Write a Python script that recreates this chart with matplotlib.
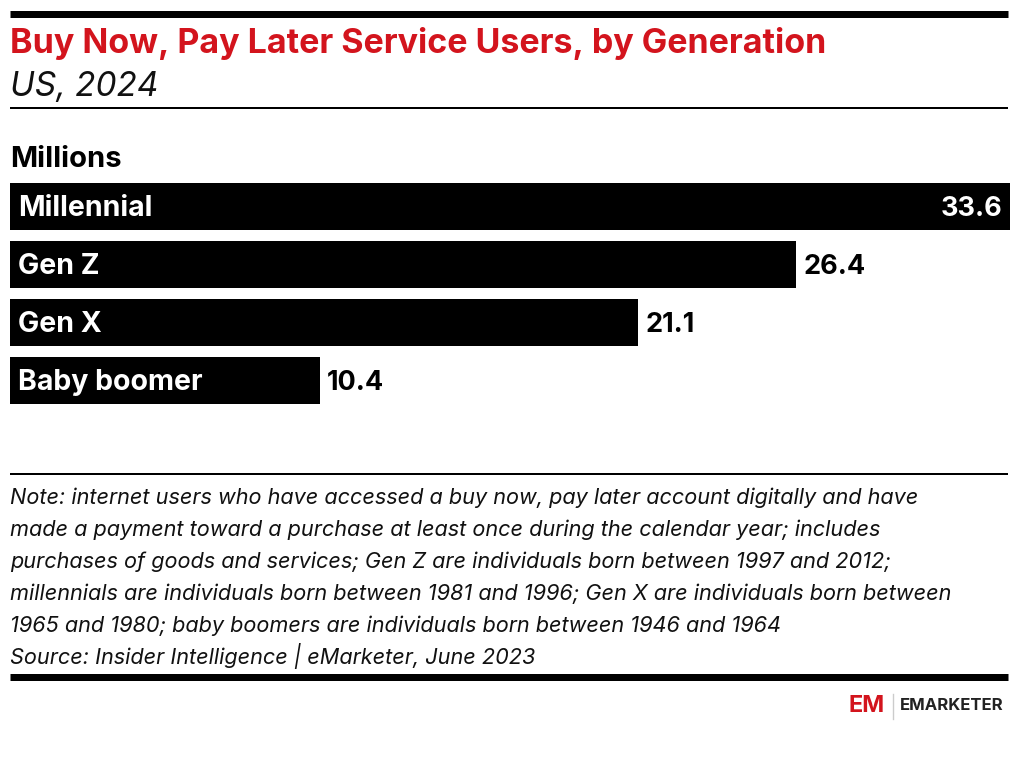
import matplotlib
matplotlib.use("Agg")
import matplotlib.pyplot as plt
from matplotlib.lines import Line2D

# data
generations = ["Millennial", "Gen Z", "Gen X", "Baby boomer"]
users_mn = [33.6, 26.4, 21.1, 10.4]

title = "Buy Now, Pay Later Service Users, by Generation"
subtitle = "US, 2024"
unit = "Millions"
note_lines = [
    "Note: internet users who have accessed a buy now, pay later account digitally and have",
    "made a payment toward a purchase at least once during the calendar year; includes",
    "purchases of goods and services; Gen Z are individuals born between 1997 and 2012;",
    "millennials are individuals born between 1981 and 1996; Gen X are individuals born between",
    "1965 and 1980; baby boomers are individuals born between 1946 and 1964",
    "Source: Insider Intelligence | eMarketer, June 2023",
]

W, H = 1017, 779
RED = "#d3141d"
FONT = "Inter"
plt.rcParams["font.family"] = [FONT, "DejaVu Sans"]

fig = plt.figure(figsize=(W / 100, H / 100), dpi=100)


def fx(px):
    return px / W


def fy(px):
    return 1 - px / H


def hline(y, lw, x0=10, x1=1008):
    fig.add_artist(Line2D([fx(x0), fx(x1)], [fy(y), fy(y)], color="black",
                          lw=lw * 72 / 100, solid_capstyle="butt"))


# header
hline(13.5, 7)
fig.text(fx(10), fy(53), title, color=RED, fontsize=24.5, fontweight="bold", va="baseline")
fig.text(fx(10), fy(96), subtitle, color="#111111", fontsize=24, style="italic", va="baseline")
hline(108, 2)
fig.text(fx(10), fy(167), unit, color="black", fontsize=21, fontweight="bold", va="baseline")

# bars: axes spans 10..1010 px horizontally, 58 px per category
ax = fig.add_axes([fx(10), fy(409.5), fx(1010) - fx(10), (409.5 - 177.5) / H])
ypos = list(range(len(generations)))
ax.barh(ypos, users_mn, height=0.81, color="black")
ax.set_xlim(0, max(users_mn))
ax.set_ylim(len(generations) - 0.5, -0.5)
ax.axis("off")
xmax = max(users_mn)
for i, (g, v) in enumerate(zip(generations, users_mn)):
    # va=center counts the descender, nudge down a touch so caps sit mid-bar
    yt = i + 0.035
    ax.text(0.28, yt, g, color="white", fontsize=20.5, fontweight="bold", va="center")
    if v > 0.9 * xmax:
        ax.text(v - 0.25, yt, f"{v}", color="white", fontsize=19.5, fontweight="bold",
                va="center", ha="right")
    else:
        ax.text(v + 0.25, yt, f"{v}", color="black", fontsize=19.5, fontweight="bold",
                va="center", ha="left")

# footer
hline(474, 2)
for k, line in enumerate(note_lines):
    fig.text(fx(10), fy(504 + 32 * k), line, color="#111111", fontsize=15.6,
             style="italic", va="baseline")
hline(677, 7)

# logo
fig.text(fx(848), fy(706), "EM", color=RED, fontsize=17, fontweight="bold", va="center")
fig.add_artist(Line2D([fx(893), fx(893)], [fy(694), fy(719)], color="#cccccc", lw=1))
fig.text(fx(900), fy(706), "EMARKETER", color="#222222", fontsize=12,
         fontweight="bold", va="center")

fig.savefig("out.png", dpi=100)
